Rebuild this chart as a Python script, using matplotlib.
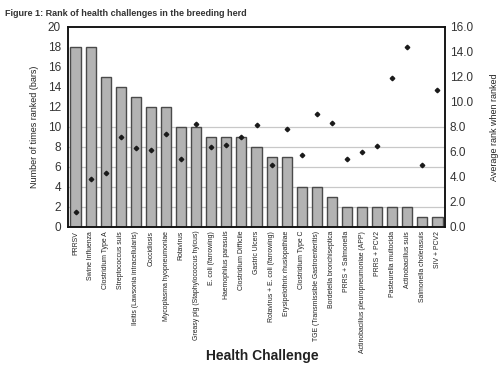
import matplotlib
matplotlib.use("Agg")
import matplotlib.pyplot as plt

plt.rcParams['font.family'] = ['Liberation Sans', 'DejaVu Sans']

categories = [
    "PRRSV", "Swine Influenza", "Clostridium Type A", "Streptococcus suis",
    "Ileitis (Lawsonia intracellularis)", "Coccidiosis", "Mycoplasma hyopneumoniae",
    "Rotavirus", "Greasy pig (Staphylococcus hyicus)", "E. coli (farrowing)",
    "Haemophilus parasuis", "Clostridium Difficile", "Gastric Ulcers",
    "Rotavirus + E. coli (farrowing)", "Erysipelothrix rhusiopathiae",
    "Clostridium Type C", "TGE (Transmissible Gastroenteritis)",
    "Bordetella bronchiseptica", "PRRS + Salmonella",
    "Actinobacillus pleuropneumoniae (APP)", "PRRS + PCV2", "Pasteurella multocida",
    "Actinobacillus suis", "Salmonella cholerasuis", "SIV + PCV2",
]
times_ranked = [18, 18, 15, 14, 13, 12, 12, 10, 10, 9, 9, 9, 8, 7, 7, 4, 4, 3,
                2, 2, 2, 2, 2, 1, 1]
avg_rank = [1.2, 3.85, 4.3, 7.15, 6.3, 6.1, 7.45, 5.4, 8.25, 6.4, 6.5, 7.15, 8.15,
            4.9, 7.85, 5.75, 9.0, 8.3, 5.45, 6.0, 6.45, 11.9, 14.4, 4.9, 10.9]
left_ticks = [0, 2, 4, 6, 8, 10, 12, 14, 16, 18, 20]
right_ticks = [0, 2, 4, 6, 8, 10, 12, 14, 16]
grid_levels = [2, 4, 6, 8, 10]

fig = plt.figure(figsize=(5.0, 3.71), dpi=100)
ax = fig.add_axes([0.136, 0.389, 0.754, 0.539])
x = list(range(len(categories)))

for g in grid_levels:
    ax.axhline(g, color='#c8c8c8', lw=0.9, zorder=1)
ax.bar(x, times_ranked, width=0.67, color='#b3b3b3', edgecolor='#4a4a4a',
       linewidth=1.0, zorder=2)
ax.set_xlim(-0.5, len(categories) - 0.5)
ax.set_ylim(0, 20)
ax.set_yticks(left_ticks)
ax.set_yticklabels([str(t) for t in left_ticks], fontsize=8.5, color='#333333')
ax.set_xticks(x)
ax.set_xticklabels(categories, rotation=90, fontsize=4.95, color='#222222')
ax.tick_params(axis='x', length=0, pad=3)
ax.tick_params(axis='y', length=0, pad=5)
ax.set_ylabel("Number of times ranked (bars)", fontsize=6.5, color='#222222', labelpad=6)
for s in ax.spines.values():
    s.set_color('#111111')
    s.set_linewidth(1.1)

ax2 = ax.twinx()
ax2.plot(x, avg_rank, linestyle='none', marker='D', markersize=2.3,
         color='#1a1a1a', zorder=3)
ax2.set_ylim(0, 16)
ax2.set_yticks(right_ticks)
ax2.set_yticklabels([f"{t:.1f}" for t in right_ticks], fontsize=8.5, color='#333333')
ax2.tick_params(axis='y', length=0, pad=3.5)
ax2.set_ylabel("Average rank when ranked", fontsize=6.5, color='#222222', labelpad=12)
for s in ax2.spines.values():
    s.set_color('#111111')
    s.set_linewidth(1.1)

fig.text(0.524, 0.04, "Health Challenge", fontsize=10, fontweight='bold',
         color='#222222', ha='center', va='center')
fig.text(0.01, 0.975, "Figure 1: Rank of health challenges in the breeding herd",
         fontsize=6.5, fontweight='bold', color='#333333', ha='left', va='top')

fig.savefig("out.png", dpi=100)
